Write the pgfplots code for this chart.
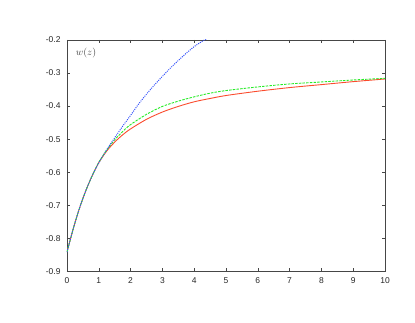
\documentclass[border=0pt]{standalone}
\usepackage{fontspec}
\setmainfont{Liberation Sans}
\usepackage{pgfplots}
\pgfplotsset{compat=1.18}

\definecolor{cred}{RGB}{250,75,45}
\definecolor{cgreen}{RGB}{40,235,40}
\definecolor{cblue}{RGB}{50,80,250}
\definecolor{axgray}{RGB}{70,70,70}

\begin{document}
\begin{tikzpicture}
\begin{axis}[
  name=ax,
  scale only axis,
  width=318bp, height=231.3bp,
  xmin=0, xmax=10, ymin=-0.9, ymax=-0.2,
  xtick={0,1,2,3,4,5,6,7,8,9,10},
  ytick={-0.9,-0.8,-0.7,-0.6,-0.5,-0.4,-0.3,-0.2},
  yticklabels={-0.9,-0.8,-0.7,-0.6,-0.5,-0.4,-0.3,-0.2},
  tick align=inside, tick pos=both,
  major tick length=3bp,
  axis line style={axgray, line width=0.8pt},
  tick style={axgray, line width=0.6pt},
  tick label style={font=\fontsize{8.5}{10}\selectfont, text=black!85},
  xticklabel style={yshift=-2.5bp},
  yticklabel style={xshift=-3bp},
  /pgf/number format/assume math mode=true,
  clip=true,
]
% red: solid
\addplot[cred, line width=0.9pt, smooth] coordinates {
 (0,-0.842) (0.2,-0.770) (0.4,-0.707) (0.6,-0.654) (0.8,-0.609) (1.0,-0.571)
 (1.25,-0.536) (1.5,-0.509) (1.75,-0.487) (2.0,-0.469) (2.5,-0.440) (3.0,-0.418)
 (3.5,-0.401) (4.0,-0.387) (4.5,-0.377) (5,-0.368) (6,-0.355) (7,-0.344)
 (8,-0.335) (9,-0.326) (10,-0.318)
};
% green: dashed
\addplot[cgreen, line width=0.9pt, dash pattern=on 2.5pt off 1.2pt, smooth] coordinates {
 (0,-0.842) (0.2,-0.770) (0.4,-0.707) (0.6,-0.654) (0.8,-0.609) (1.0,-0.570)
 (1.25,-0.533) (1.5,-0.502) (1.75,-0.477) (2.0,-0.456) (2.5,-0.425) (3.0,-0.401)
 (3.5,-0.385) (4.0,-0.372) (4.5,-0.361) (5,-0.353) (6,-0.342) (7,-0.333)
 (8,-0.327) (9,-0.321) (10,-0.316)
};
% blue: dotted
\addplot[cblue, line width=1pt, dash pattern=on 1pt off 1.1pt, smooth] coordinates {
 (0,-0.842) (0.2,-0.770) (0.4,-0.707) (0.6,-0.654) (0.8,-0.609) (1.0,-0.572)
 (1.25,-0.532) (1.5,-0.496) (1.75,-0.461) (2.0,-0.428) (2.25,-0.394) (2.5,-0.364)
 (2.75,-0.336) (3.0,-0.310) (3.25,-0.285) (3.5,-0.262) (3.75,-0.240) (4.0,-0.220)
 (4.25,-0.204) (4.5,-0.190)
};
\node[text=black!75, anchor=center] at (axis cs:0.6,-0.24) {$w(z)$};
\node[text=black!75, anchor=north, font=\fontsize{8}{9}\selectfont, yshift=-2.5bp] at (axis cs:9.62,-0.9) {$z$};
\end{axis}
\path ([shift={(-67bp,-51.7bp)}]ax.south west) rectangle ([shift={(30bp,40bp)}]ax.north east);
\end{tikzpicture}
\end{document}
